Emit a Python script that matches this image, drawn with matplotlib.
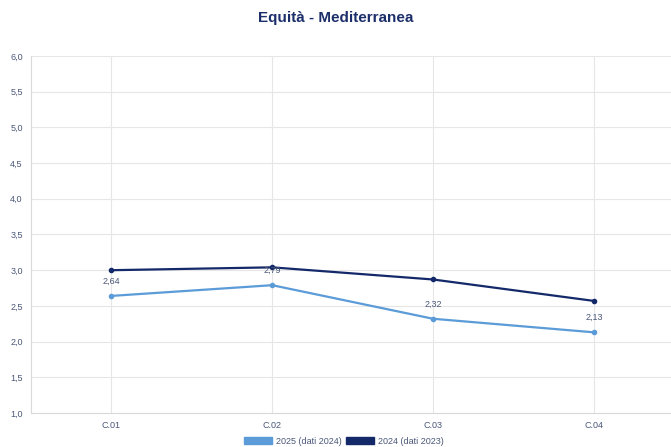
import matplotlib
matplotlib.use('Agg')
import matplotlib.pyplot as plt
from matplotlib.patches import Patch

plt.rcParams['font.family'] = ['Liberation Sans', 'DejaVu Sans']

categories = ['C.01', 'C.02', 'C.03', 'C.04']
serie_2025 = [2.64, 2.79, 2.32, 2.13]   # 2025 (dati 2024)
serie_2024 = [3.00, 3.04, 2.87, 2.57]   # 2024 (dati 2023)
y_ticks = [1.0, 1.5, 2.0, 2.5, 3.0, 3.5, 4.0, 4.5, 5.0, 5.5, 6.0]

light = '#5b9bd8'
dark = '#14296a'
text_col = '#4a5778'

fig = plt.figure(figsize=(6.71, 4.47), dpi=100)
ax = fig.add_axes([31/671, 34/447, 640/671, 357/447])

x = range(len(categories))
ax.plot(x, serie_2025, color=light, lw=1.6, marker='o', ms=3, zorder=3)
ax.plot(x, serie_2024, color=dark, lw=1.6, marker='o', ms=3, zorder=3)

# value labels for the light series
for xi, v in zip(x, serie_2025):
    ax.annotate(('%.2f' % v).replace('.', ','), (xi, v), xytext=(0, 7.5),
                textcoords='offset points', ha='center', va='bottom',
                fontsize=6.5, color=text_col)

ax.set_xlim(-0.5, 3.48)
ax.set_ylim(1.0, 6.0)
ax.set_xticks(list(x))
ax.set_xticklabels(categories)
ax.set_yticks(y_ticks)
ax.set_yticklabels([('%.1f' % t).replace('.', ',') for t in y_ticks])
ax.tick_params(length=0, labelsize=6.5, labelcolor=text_col)
ax.tick_params(axis='x', pad=6)
ax.tick_params(axis='y', pad=6)
ax.grid(True, color='#e6e6e6', lw=0.8)
ax.set_axisbelow(True)
for side in ['top', 'right']:
    ax.spines[side].set_visible(False)
for side in ['left', 'bottom']:
    ax.spines[side].set_color('#d9d9d9')
    ax.spines[side].set_linewidth(0.8)

fig.text(0.5, 1 - 18/447, 'Equità - Mediterranea', ha='center', va='center',
         fontsize=11, fontweight='bold', color='#1c2f6b')

handles = [Patch(facecolor=light, edgecolor=light), Patch(facecolor=dark, edgecolor=dark)]
fig.legend(handles, ['2025 (dati 2024)', '2024 (dati 2023)'], loc='center',
           bbox_to_anchor=(344/671, 1 - 441/447), ncol=2, frameon=False,
           fontsize=6.5, handlelength=3.1, handleheight=0.9, columnspacing=0.5,
           handletextpad=0.4, labelcolor=text_col)

fig.savefig('out.png', dpi=100)
